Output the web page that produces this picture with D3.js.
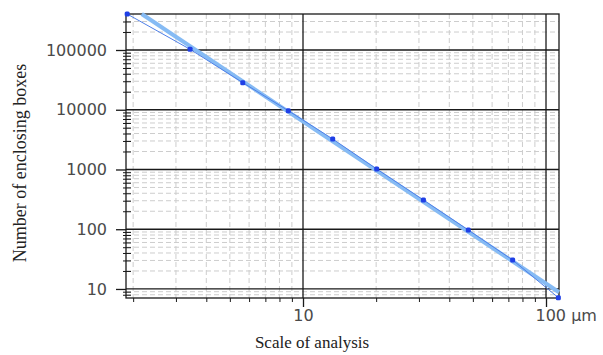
<!DOCTYPE html>
<html>
<head>
<meta charset="utf-8">
<script src="https://cdn.jsdelivr.net/npm/d3@7"></script>
<style>
    body { margin: 0; background: #fff; }
    .tick text { font-family: "DejaVu Sans", sans-serif; font-size: 16px; fill: #4a4a4a; }
    .title { font-family: "Liberation Serif", serif; fill: #222; }
</style>
</head>
<body>
<div id="chart"><svg width="603" height="355"></svg></div>
<script>
// box counting measurements (scale in um, number of boxes)
const scaleUm = [1.89, 3.43, 5.65, 8.70, 13.25, 20.1, 31.3, 47.9, 72.9, 112.4];
const boxCount = [400500, 102700, 28400, 9640, 3236, 1019, 309, 97, 30.5, 7.15];

// fitted power law line, end points
const fitX = [2.17, 113.1];
const fitY = [400500, 8.8];

const xMajor = [10, 100];
const xMinor = [2, 3, 4, 5, 6, 7, 8, 9, 20, 30, 40, 50, 60, 70, 80, 90];
const yMajor = [10, 100, 1000, 10000, 100000];
const yMinor = [8, 9, 20, 30, 40, 50, 60, 70, 80, 90, 200, 300, 400, 500, 600, 700, 800, 900,
    2000, 3000, 4000, 5000, 6000, 7000, 8000, 9000, 20000, 30000, 40000, 50000, 60000, 70000, 80000, 90000,
    200000, 300000];

const xDomain = [1.869, 113.1];
const yDomain = [7.06, 400500];

const plot = { left: 126, right: 559, top: 14, bottom: 298 };

const svg = d3.select("#chart svg");

const xScale = d3.scaleLog().domain(xDomain).range([plot.left, plot.right]);
const yScale = d3.scaleLog().domain(yDomain).range([plot.bottom, plot.top]);

// minor grid
svg.append("g")
    .selectAll("line")
    .data(yMinor)
    .join("line")
    .attr("x1", plot.left)
    .attr("x2", plot.right)
    .attr("y1", d => yScale(d))
    .attr("y2", d => yScale(d))
    .attr("stroke", "#cdcdcd")
    .attr("stroke-dasharray", "5,3");
svg.append("g")
    .selectAll("line")
    .data(xMinor)
    .join("line")
    .attr("x1", d => xScale(d))
    .attr("x2", d => xScale(d))
    .attr("y1", plot.top)
    .attr("y2", plot.bottom)
    .attr("stroke", "#cdcdcd")
    .attr("stroke-dasharray", "5,3");

// major grid
svg.append("g")
    .selectAll("line")
    .data(yMajor)
    .join("line")
    .attr("x1", plot.left)
    .attr("x2", plot.right)
    .attr("y1", d => yScale(d))
    .attr("y2", d => yScale(d))
    .attr("stroke", "#1a1a1a")
    .attr("stroke-width", 1.3);
svg.append("g")
    .selectAll("line")
    .data(xMajor)
    .join("line")
    .attr("x1", d => xScale(d))
    .attr("x2", d => xScale(d))
    .attr("y1", plot.top)
    .attr("y2", plot.bottom)
    .attr("stroke", "#1a1a1a")
    .attr("stroke-width", 1.3);

// frame
svg.append("rect")
    .attr("x", plot.left)
    .attr("y", plot.top)
    .attr("width", plot.right - plot.left)
    .attr("height", plot.bottom - plot.top)
    .attr("fill", "none")
    .attr("stroke", "#1a1a1a")
    .attr("stroke-width", 1.3);

// axes
const yAxis = svg.append("g")
    .attr("transform", "translate(" + plot.left + ",0)")
    .call(d3.axisLeft(yScale).tickValues(yMajor).tickSize(10).tickPadding(9).tickFormat(d3.format("d")));
yAxis.select(".domain").remove();
yAxis.selectAll(".tick line").attr("stroke", "#1a1a1a").attr("stroke-width", 1.3);

const yAxisMinor = svg.append("g")
    .attr("transform", "translate(" + plot.left + ",0)")
    .call(d3.axisLeft(yScale).tickValues(yMinor).tickFormat(""));
yAxisMinor.select(".domain").remove();
yAxisMinor.selectAll(".tick line").attr("x1", -3).attr("x2", 5).attr("stroke", "#1a1a1a");

const xAxis = svg.append("g")
    .attr("transform", "translate(0," + plot.bottom + ")")
    .call(d3.axisBottom(xScale).tickValues(xMajor).tickSize(9).tickPadding(2.5)
        .tickFormat(d => d === 100 ? "100 µm" : d3.format("d")(d)));
xAxis.select(".domain").remove();
xAxis.selectAll(".tick line").attr("stroke", "#1a1a1a").attr("stroke-width", 1.3);
xAxis.selectAll(".tick text")
    .filter(d => d === 100)
    .attr("text-anchor", "start")
    .attr("x", -11);

const xAxisMinor = svg.append("g")
    .attr("transform", "translate(0," + plot.bottom + ")")
    .call(d3.axisBottom(xScale).tickValues(xMinor).tickSize(4).tickFormat(""));
xAxisMinor.select(".domain").remove();
xAxisMinor.selectAll(".tick line").attr("stroke", "#1a1a1a");

// fit line
const points = scaleUm.map((d, i) => ({ x: d, y: boxCount[i] }));
const fit = fitX.map((d, i) => ({ x: d, y: fitY[i] }));
const line = d3.line()
    .x(d => xScale(d.x))
    .y(d => yScale(d.y));

svg.append("path")
    .datum(fit)
    .attr("d", line)
    .attr("fill", "none")
    .attr("stroke", "#86bbf4")
    .attr("stroke-width", 4);

// measured data
svg.append("path")
    .datum(points)
    .attr("d", line)
    .attr("fill", "none")
    .attr("stroke", "#4f80e8")
    .attr("stroke-width", 1);

svg.append("g")
    .selectAll("rect")
    .data(points)
    .join("rect")
    .attr("x", d => xScale(d.x) - 2.5)
    .attr("y", d => yScale(d.y) - 2.5)
    .attr("width", 5)
    .attr("height", 5)
    .attr("rx", 1.5)
    .attr("fill", "#1f3fe6");

// titles
svg.append("text")
    .attr("class", "title")
    .attr("x", 312)
    .attr("y", 348)
    .attr("text-anchor", "middle")
    .style("font-size", "17px")
    .text("Scale of analysis");

svg.append("text")
    .attr("class", "title")
    .attr("transform", "translate(26,163) rotate(-90)")
    .attr("text-anchor", "middle")
    .style("font-size", "18px")
    .text("Number of enclosing boxes");
</script>
</body>
</html>
